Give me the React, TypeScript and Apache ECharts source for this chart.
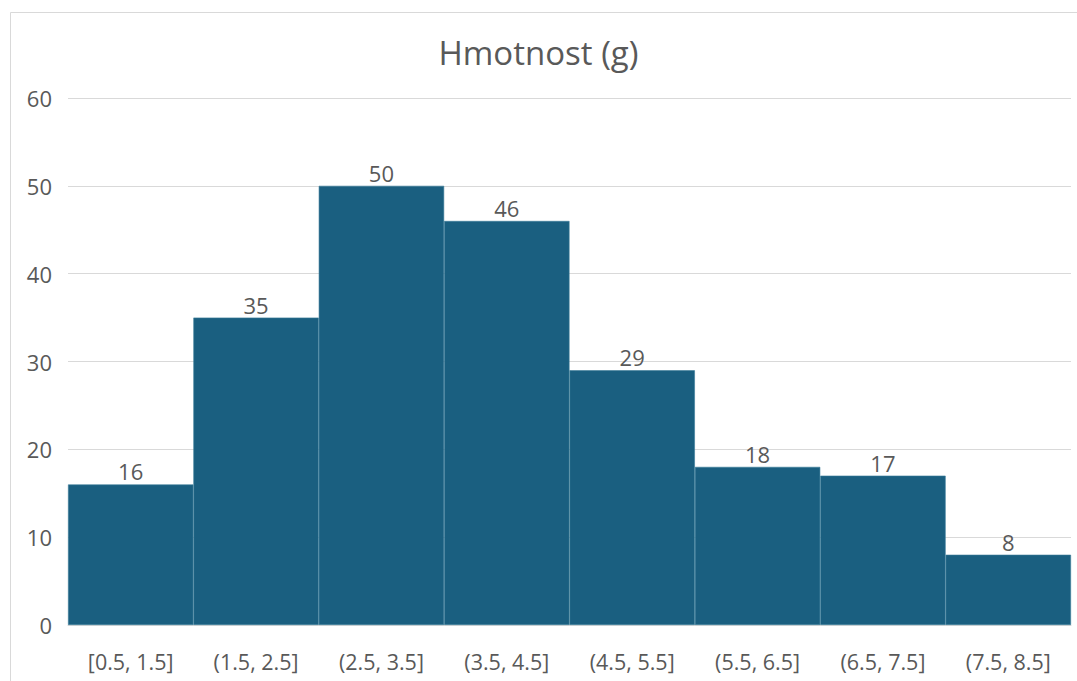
import React, { useEffect, useRef } from "react";
import * as echarts from "echarts";

const categories = ["[0.5, 1.5]", "(1.5, 2.5]", "(2.5, 3.5]", "(3.5, 4.5]", "(4.5, 5.5]", "(5.5, 6.5]", "(6.5, 7.5]", "(7.5, 8.5]"];
const counts = [16, 35, 50, 46, 29, 18, 17, 8];
const titleText = "Hmotnost (g)";

const FONT = "'Open Sans', 'Noto Sans', sans-serif";

export default function App() {
  const ref = useRef<HTMLDivElement>(null);
  useEffect(() => {
    document.body.style.margin = "0";
    const chart = echarts.init(ref.current!, null, { renderer: "svg" });
    chart.setOption({
      animation: false,
      backgroundColor: "#ffffff",
      title: {
        text: titleText,
        left: "center",
        top: 31,
        textStyle: { fontFamily: FONT, fontSize: 33, fontWeight: "normal", color: "#595959" },
      },
      graphic: [
        {
          type: "rect",
          shape: { x: 10.5, y: 12.5, width: 1080, height: 700 },
          style: { fill: "none", stroke: "#d9d9d9", lineWidth: 1 },
          silent: true,
        },
      ],
      grid: { left: 68, right: 6, top: 98, bottom: 56 },
      xAxis: {
        type: "category",
        data: categories,
        axisLine: { show: true, lineStyle: { color: "#d9d9d9", width: 1 } },
        axisTick: { show: false },
        axisLabel: { fontFamily: FONT, fontSize: 21.5, color: "#595959", margin: 25 },
      },
      yAxis: {
        type: "value",
        min: 0,
        max: 60,
        interval: 10,
        axisLine: { show: false },
        axisTick: { show: false },
        splitLine: { lineStyle: { color: "#d9d9d9", width: 1 } },
        axisLabel: { fontFamily: FONT, fontSize: 22, color: "#595959", margin: 16 },
      },
      series: [
        {
          type: "bar",
          data: counts,
          barCategoryGap: 0,
          itemStyle: { color: "#1a5f80", borderColor: "#3b7c99", borderWidth: 0.6 },
          label: {
            show: true,
            position: "top",
            distance: 2,
            fontFamily: FONT,
            fontSize: 22,
            color: "#595959",
          },
        },
      ],
    });
    return () => chart.dispose();
  }, []);
  return <div ref={ref} style={{ position: "fixed", left: 0, top: 0, width: 1077, height: 681 }} />;
}
